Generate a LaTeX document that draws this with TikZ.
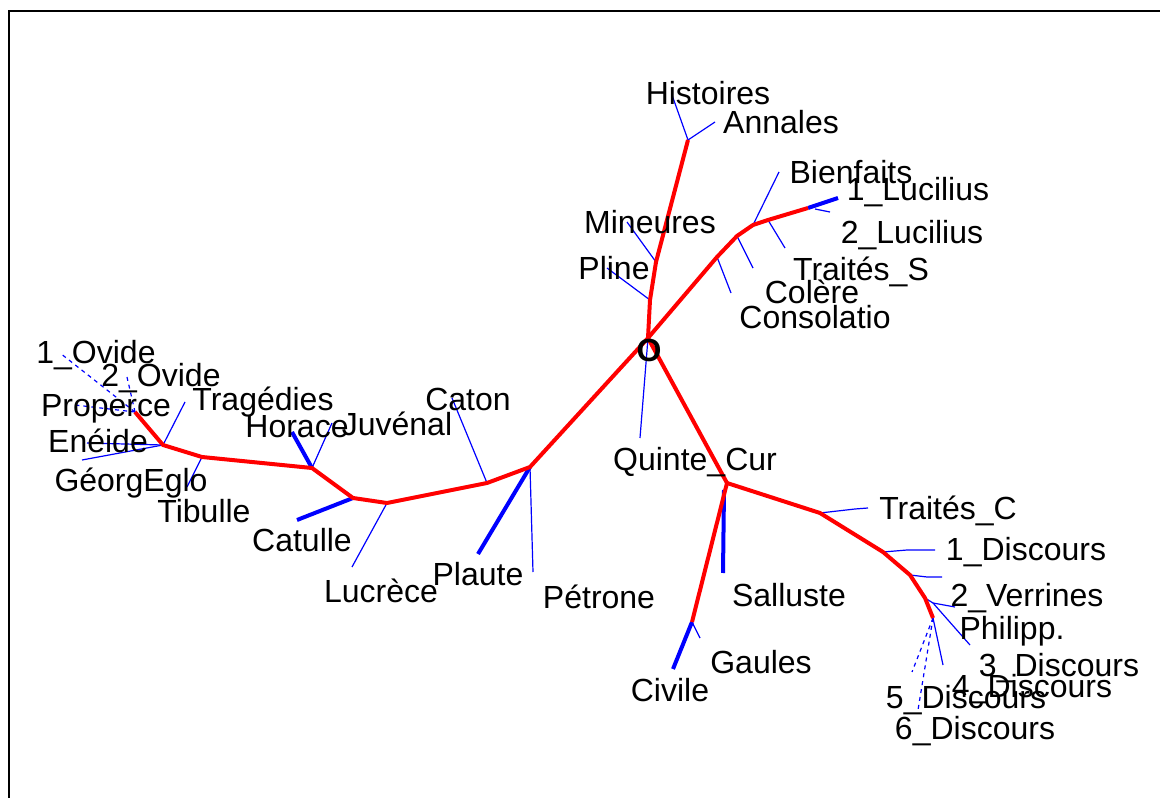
\documentclass[tikz,border=0pt]{standalone}
\usepackage{fontspec}
\setmainfont{Liberation Sans}
\begin{document}
\begin{tikzpicture}[x=0.75pt,y=-0.75pt,
  rededge/.style={draw=red, line width=3pt, line join=round},
  leaf/.style={draw=blue, line width=0.9pt},
  thickleaf/.style={draw=blue, line width=3pt},
  dleaf/.style={draw=blue, line width=0.9pt, dash pattern=on 3pt off 3pt},
  lab/.style={font=\fontsize{24}{28}\selectfont, inner sep=0pt, text=black},
  frame/.style={draw=black, line width=1.6pt}]
\useasboundingbox (0,0) rectangle (1160,798);
% frame
\coordinate (fa) at (9,798);
\coordinate (fb) at (9,11);
\coordinate (fc) at (1160,11);
\draw[frame] (fa) -- (fb) -- (fc);
% internal nodes
\coordinate (root) at (648,338);
\coordinate (p1) at (650,300);
\coordinate (p2) at (656,262);
\coordinate (p3) at (688,140);
\coordinate (q1) at (717,257);
\coordinate (q2) at (737,236);
\coordinate (q3) at (753,225);
\coordinate (q4) at (768,220);
\coordinate (q5) at (808,208);
\coordinate (l1) at (530,467);
\coordinate (l2) at (487,483);
\coordinate (l3) at (387,503);
\coordinate (l4) at (353,498);
\coordinate (l5) at (312,468);
\coordinate (l6) at (202,457);
\coordinate (l7) at (163,445);
\coordinate (l8) at (135,412);
\coordinate (m1) at (727,483);
\coordinate (m2) at (692,622);
\coordinate (r1) at (820,513);
\coordinate (r2) at (883,552);
\coordinate (r3) at (910,575);
\coordinate (r4) at (925,598);
\coordinate (r5) at (933,618);
% leaf tips
\coordinate (tHist) at (672,95);
\coordinate (tAnn) at (715,122);
\coordinate (tMin) at (627,222);
\coordinate (tPli) at (607,268);
\coordinate (tBien) at (779,172);
\coordinate (tLuc1) at (838,198);
\coordinate (tLuc2a) at (815,209);
\coordinate (tLuc2) at (830,212);
\coordinate (tTrS) at (785,248);
\coordinate (tCol) at (753,268);
\coordinate (tCons) at (731,293);
\coordinate (tQC) at (640,438);
\coordinate (tSal0) at (724,490);
\coordinate (tSal) at (723,573);
\coordinate (tCiv) at (673,669);
\coordinate (tGau) at (700,638);
\coordinate (tTrC1) at (855,509);
\coordinate (tTrC) at (868,508);
\coordinate (tD1a) at (907,550);
\coordinate (tD1) at (935,550);
\coordinate (tVa) at (927,577);
\coordinate (tV) at (942,577);
\coordinate (tPha) at (933,603);
\coordinate (tPh) at (955,607);
\coordinate (tD3) at (970,645);
\coordinate (tD4) at (943,665);
\coordinate (tD5) at (912,672);
\coordinate (tD6) at (918,710);
\coordinate (tPla) at (478,554);
\coordinate (tPet) at (533,572);
\coordinate (tCat) at (452,398);
\coordinate (tLuc) at (352,567);
\coordinate (tCatu) at (297,520);
\coordinate (tHor) at (292,432);
\coordinate (tJuv) at (332,423);
\coordinate (tTib) at (187,487);
\coordinate (tTra) at (185,402);
\coordinate (tEne) at (87,443);
\coordinate (tGeo) at (82,460);
\coordinate (tOv1) at (60,353);
\coordinate (tOv2) at (127,377);
\coordinate (tPro) at (75,405);
% blue leaves
\draw[leaf] (p3) -- (tHist);
\draw[leaf] (p3) -- (tAnn);
\draw[leaf] (p2) -- (tMin);
\draw[leaf] (p1) -- (tPli);
\draw[leaf] (q3) -- (tBien);
\draw[thickleaf] (q5) -- (tLuc1);
\draw[leaf] (tLuc2a) -- (tLuc2);
\draw[leaf] (q4) -- (tTrS);
\draw[leaf] (q2) -- (tCol);
\draw[leaf] (q1) -- (tCons);
\draw[leaf] (root) -- (tQC);
\draw[thickleaf] (tSal0) -- (tSal);
\draw[thickleaf] (m2) -- (tCiv);
\draw[leaf] (m2) -- (tGau);
\draw[leaf] (r1) -- (tTrC1) -- (tTrC);
\draw[leaf] (r2) -- (tD1a) -- (tD1);
\draw[leaf] (r3) -- (tVa) -- (tV);
\draw[leaf] (r4) -- (tPha) -- (tPh);
\draw[leaf] (tPha) -- (tD3);
\draw[leaf] (r5) -- (tD4);
\draw[dleaf] (r5) -- (tD5);
\draw[dleaf] (r5) -- (tD6);
\draw[thickleaf] (l1) -- (tPla);
\draw[leaf] (l1) -- (tPet);
\draw[leaf] (l2) -- (tCat);
\draw[leaf] (l3) -- (tLuc);
\draw[thickleaf] (l4) -- (tCatu);
\draw[thickleaf] (l5) -- (tHor);
\draw[leaf] (l5) -- (tJuv);
\draw[leaf] (l6) -- (tTib);
\draw[leaf] (l7) -- (tTra);
\draw[leaf] (l7) -- (tEne);
\draw[leaf] (l7) -- (tGeo);
\draw[dleaf] (l8) -- (tOv1);
\draw[dleaf] (l8) -- (tOv2);
\draw[dleaf] (l8) -- (tPro);
% red internal edges
\draw[rededge] (root) -- (p1) -- (p2) -- (p3);
\draw[rededge] (root) -- (q1) -- (q2) -- (q3) -- (q4) -- (q5);
\draw[rededge] (root) -- (l1) -- (l2) -- (l3) -- (l4) -- (l5) -- (l6) -- (l7) -- (l8);
\draw[rededge] (root) -- (m1) -- (m2);
\draw[rededge] (m1) -- (r1) -- (r2) -- (r3) -- (r4) -- (r5);
% labels
\node[lab] (nHist) at (708,93) {Histoires};
\node[lab] (nAnn) at (781,122) {Annales};
\node[lab] (nBien) at (851,172) {Bienfaits};
\node[lab] (nLuc1) at (918,192) {1\_Lucilius};
\node[lab] (nLuc2) at (912,235) {2\_Lucilius};
\node[lab] (nTrS) at (861,272) {Traités\_S};
\node[lab] (nCol) at (812,292) {Colère};
\node[lab] (nCons) at (815,317) {Consolatio};
\node[lab] (nMin) at (650,222) {Mineures};
\node[lab] (nPli) at (614,268) {Pline};
\node[lab, font=\fontsize{24}{28}\selectfont\bfseries] (nO) at (649,350) {O};
\node[lab] (nQC) at (695,462) {Quinte\_Cur};
\node[lab] (nTrC) at (948,511) {Traités\_C};
\node[lab] (nD1) at (1026,552) {1\_Discours};
\node[lab] (nV) at (1027,598) {2\_Verrines};
\node[lab] (nPh) at (1012,631) {Philipp.};
\node[lab] (nD3) at (1059,668) {3\_Discours};
\node[lab] (nD4) at (1032,689) {4\_Discours};
\node[lab] (nD5) at (966,700) {5\_Discours};
\node[lab] (nD6) at (975,731) {6\_Discours};
\node[lab] (nSal) at (789,595) {Salluste};
\node[lab] (nGau) at (761,662) {Gaules};
\node[lab] (nCiv) at (670,690) {Civile};
\node[lab] (nPet) at (599,597) {Pétrone};
\node[lab] (nPla) at (478,574) {Plaute};
\node[lab] (nLuc) at (381,591) {Lucrèce};
\node[lab] (nCatu) at (302,540) {Catulle};
\node[lab] (nCat) at (468,399) {Caton};
\node[lab] (nJuv) at (397,424) {Juvénal};
\node[lab] (nHor) at (297,427) {Horace};
\node[lab] (nTra) at (263,402) {Tragédies};
\node[lab] (nOv1) at (96,355) {1\_Ovide};
\node[lab] (nOv2) at (161,378) {2\_Ovide};
\node[lab] (nPro) at (106,409) {Properce};
\node[lab] (nEne) at (98,441) {Enéide};
\node[lab] (nGeo) at (131,483) {GéorgEglo};
\node[lab] (nTib) at (204,511) {Tibulle};
\end{tikzpicture}
\end{document}
